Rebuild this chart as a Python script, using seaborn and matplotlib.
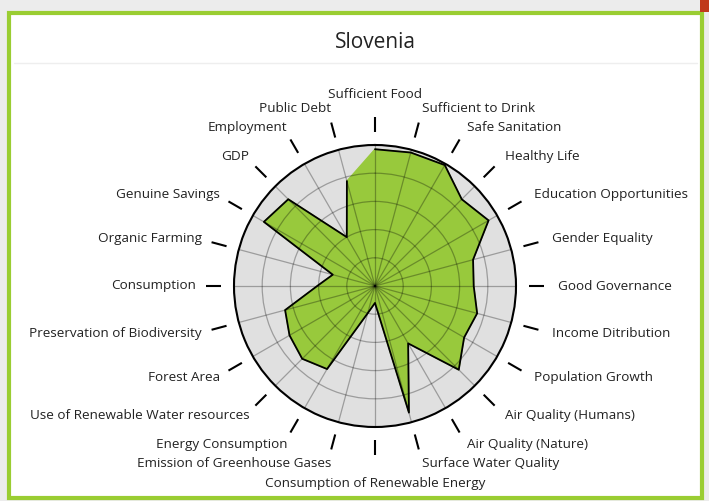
import numpy as np
import matplotlib
matplotlib.use("Agg")
import matplotlib.pyplot as plt
import seaborn as sns
from matplotlib.patches import Rectangle
from matplotlib.lines import Line2D

# indicators, clockwise from the top
categories = [
    "Sufficient Food", "Sufficient to Drink", "Safe Sanitation", "Healthy Life",
    "Education Opportunities", "Gender Equality", "Good Governance",
    "Income Ditribution", "Population Growth", "Air Quality (Humans)",
    "Air Quality (Nature)", "Surface Water Quality",
    "Consumption of Renewable Energy", "Emission of Greenhouse Gases",
    "Energy Consumption", "Use of Renewable Water resources", "Forest Area",
    "Preservation of Biodiversity", "Consumption", "Organic Farming",
    "Genuine Savings", "GDP", "Employment", "Public Debt",
]
scores = [
    0.97, 0.98, 0.99, 0.87, 0.93, 0.72, 0.70, 0.75, 0.73, 0.84, 0.47, 0.93,
    0.12, 0.20, 0.68, 0.73, 0.70, 0.66, 0.41, 0.31, 0.91, 0.87, 0.40, 0.77,
]
ring_levels = [0.2, 0.4, 0.6, 0.8, 1.0]
country = "Slovenia"

sns.set_theme(style="white")
plt.rcParams["font.family"] = ["Open Sans", "DejaVu Sans"]

W, H = 709, 501
fig = plt.figure(figsize=(W / 100, H / 100), dpi=100)
fig.patch.set_facecolor("#ececec")

# white card with green frame
fig.add_artist(Rectangle((9 / W, 1 - 498 / H), 693 / W, 485 / H,
                         transform=fig.transFigure, facecolor="white",
                         edgecolor="#9acd32", lw=3, zorder=-1))
fig.add_artist(Rectangle((700 / W, 1 - 12 / H), 9 / W, 12 / H,
                         transform=fig.transFigure, facecolor="#c0391b",
                         edgecolor="none", zorder=-1))
fig.add_artist(Line2D([14 / W, 697 / W], [1 - 63 / H] * 2,
                      color="#eeeeee", lw=1, zorder=-1))
fig.text(375 / W, 1 - 42 / H, country, ha="center", va="center",
         fontsize=15, color="#222222")

cx, cy, R = 375, 286, 141
ax = fig.add_axes([(cx - R) / W, (H - cy - R) / H, 2 * R / W, 2 * R / H],
                  projection="polar")
ax.set_theta_zero_location("N")
ax.set_theta_direction(-1)
ax.set_facecolor("#e0e0e0")

n = len(categories)
theta = np.arange(n) * 2 * np.pi / n
theta_c = np.append(theta, theta[0])
scores_c = np.append(scores, scores[0])

ax.fill(theta_c, scores_c, color="#98c93c", zorder=2)
sns.lineplot(x=theta_c, y=scores_c, ax=ax, color="black", lw=1.3,
             sort=False, zorder=3)

ax.set_ylim(0, 1)
ax.set_rgrids(ring_levels[:-1], labels=[])
ax.set_thetagrids(np.degrees(theta), labels=[])
ax.grid(True, color="black", alpha=0.3, lw=0.9)
ax.set_axisbelow(False)
ax.spines["polar"].set_color("black")
ax.spines["polar"].set_linewidth(1.5)
ax.tick_params(length=0, pad=0)

for t, lab in zip(theta, categories):
    ax.plot([t, t], [1.09, 1.2], color="black", lw=1.5, clip_on=False,
            solid_capstyle="butt")
    deg = np.degrees(t) % 360
    dx = 0
    if deg == 0:
        ha, r = "center", 1.36
    elif deg == 180:
        ha, r = "center", 1.40
    elif deg < 180:
        ha, r = "left", 1.3
    else:
        ha, r, dx = "right", 1.3, 4
    ax.annotate(lab, xy=(t, r), xytext=(dx, 0), textcoords="offset pixels",
                ha=ha, va="center", fontsize=9.7, color="#222222",
                annotation_clip=False)

fig.savefig("out.png", dpi=100, facecolor=fig.get_facecolor())
